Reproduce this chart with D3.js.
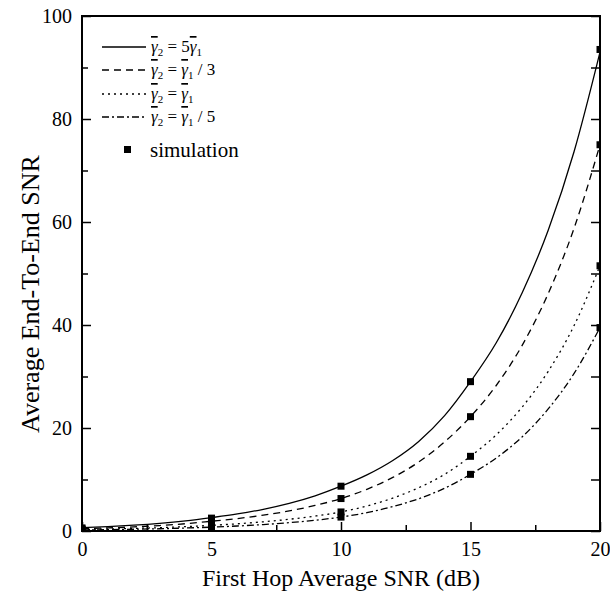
<!DOCTYPE html>
<html><head><meta charset="utf-8">
<script src="https://cdn.jsdelivr.net/npm/d3@7/dist/d3.min.js"></script>
<style>body{margin:0;background:#fff}svg{display:block}text{font-family:"Liberation Serif","Times New Roman",serif;fill:#000}</style>
</head><body><svg id="c" width="610" height="606"></svg>
<script>
// Curve values (1 dB steps)
const snrDb = [0,1,2,3,4,5,6,7,8,9,10,11,12,13,14,15,16,17,18,19,20];
const curve5g1  = [0.65,0.86,1.13,1.49,1.97,2.6,3.31,4.22,5.37,6.84,8.7,10.9,13.7,17.4,22.4,29,36.6,46.3,58.4,73.7,93];
const curveG1d3 = [0.45,0.6,0.8,1.06,1.42,1.9,2.41,3.07,3.9,4.96,6.3,8.1,10.4,13.4,17.3,22.2,28.3,36.1,46.1,58.8,75];
const curveG1   = [0.3,0.39,0.5,0.65,0.85,1.1,1.4,1.79,2.28,2.9,3.7,4.86,6.39,8.4,11.0,14.5,18.7,24.1,31.0,39.9,51.5];
const curveG1d5 = [0.2,0.26,0.34,0.44,0.58,0.75,0.97,1.25,1.62,2.09,2.7,3.57,4.73,6.27,8.3,11,14.2,18.3,23.7,30.6,39.5];
// Simulation points
const simDb = [0,5,10,15,20];
const sim5g1  = [0.6,2.5,8.7,29,93.5];
const simG1d3 = [0.4,1.7,6.3,22.2,75];
const simG1   = [0.3,1.0,3.7,14.5,51.5];
const simG1d5 = [0.2,0.6,2.7,11,39.5];
const xTicks = [0,5,10,15,20];
const yTicks = [0,20,40,60,80,100];

const svg = d3.select("#c");
const L=82,R=600,T=16,B=531;
const x = d3.scaleLinear().domain([0,20]).range([L,R]);
const y = d3.scaleLinear().domain([0,100]).range([B,T]);

svg.append("clipPath").attr("id","clip").append("rect").attr("x",L).attr("y",T).attr("width",R-L).attr("height",B-T);

const series = [
  {v:curve5g1, s:sim5g1, dash:null, label:["5",""]},
  {v:curveG1d3, s:simG1d3, dash:"7,5", label:["","/ 3"]},
  {v:curveG1, s:simG1, dash:"2,4", label:["",""]},
  {v:curveG1d5, s:simG1d5, dash:"7,3,2,3", label:["","/ 5"]}
];
const line = d3.line().x((d,i)=>x(snrDb[i])).y(d=>y(d)).curve(d3.curveMonotoneX);
const g = svg.append("g").attr("clip-path","url(#clip)");
series.forEach(s=>{
  g.append("path").attr("d",line(s.v)).attr("fill","none").attr("stroke","#000")
   .attr("stroke-width",1.3).attr("stroke-dasharray",s.dash);
});
series.forEach(s=>{
  g.selectAll(null).data(s.s).enter().append("rect")
   .attr("x",(d,i)=>x(simDb[i])-3.5).attr("y",d=>y(d)-3.5).attr("width",7).attr("height",7).attr("fill","#000");
});

// axes
const xMinor=[2.5,7.5,12.5,17.5], yMinor=[10,30,50,70,90];
const ax=svg.append("g");
ax.append("g").attr("transform",`translate(0,${B})`)
  .call(d3.axisBottom(x).tickValues(xTicks).tickSize(-9).tickPadding(11).tickFormat(d3.format("d")));
ax.append("g").attr("transform",`translate(0,${B})`)
  .call(d3.axisBottom(x).tickValues(xMinor).tickSize(-6).tickFormat(""));
ax.append("g").attr("transform",`translate(${L},0)`)
  .call(d3.axisLeft(y).tickValues(yTicks).tickSize(-9).tickPadding(10).tickFormat(d3.format("d")));
ax.append("g").attr("transform",`translate(${L},0)`)
  .call(d3.axisLeft(y).tickValues(yMinor).tickSize(-6).tickFormat(""));
ax.append("g").attr("transform",`translate(${R},0)`)
  .call(d3.axisRight(y).tickValues(yTicks.concat(yMinor)).tickSize(-9).tickFormat(""));
ax.selectAll(".domain").remove();
ax.selectAll("line").attr("stroke","#000").attr("stroke-width",1.5);
ax.selectAll("text").style("font-family",'"Liberation Serif",serif').style("font-size","20px");
svg.append("rect").attr("x",L).attr("y",T).attr("width",R-L).attr("height",B-T)
  .attr("fill","none").attr("stroke","#000").attr("stroke-width",2);

svg.append("text").attr("x",(L+R)/2).attr("y",586).attr("text-anchor","middle").style("font-size","24px")
  .text("First Hop Average SNR (dB)");
svg.append("text").attr("transform",`translate(39,294) rotate(-90)`).attr("text-anchor","middle").style("font-size","26px")
  .text("Average End-To-End SNR");

// legend
const lg = svg.append("g");
const rows=[47,70,94,117];
series.forEach((s,i)=>{
  lg.append("line").attr("x1",102).attr("x2",146).attr("y1",rows[i]).attr("y2",rows[i])
    .attr("stroke","#000").attr("stroke-width",1.3).attr("stroke-dasharray",s.dash);
  const t = lg.append("text").attr("x",151).attr("y",rows[i]+5).style("font-size","17px");
  t.append("tspan").style("font-style","italic").style("text-decoration","overline").text("γ");
  t.append("tspan").attr("dy",4).style("font-size","11px").text("2");
  t.append("tspan").attr("dy",-4).text(" = "+s.label[0]);
  t.append("tspan").style("font-style","italic").style("text-decoration","overline").text("γ");
  t.append("tspan").attr("dy",4).style("font-size","11px").text("1");
  if(s.label[1]) t.append("tspan").attr("dy",-4).text(" "+s.label[1]);
});
lg.append("rect").attr("x",124).attr("y",146).attr("width",7).attr("height",7).attr("fill","#000");
lg.append("text").attr("x",150).attr("y",157).style("font-size","21px").text("simulation");
</script></body></html>
